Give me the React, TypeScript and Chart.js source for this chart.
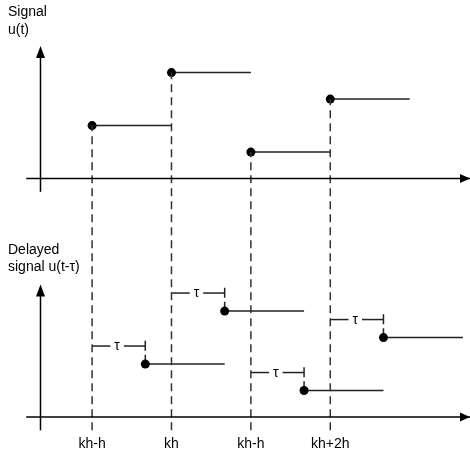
import React, { useEffect, useRef } from 'react';
import { Chart, registerables } from 'chart.js';
Chart.register(...registerables);

// ---- data ----
const tickLabels = ['kh-h', 'kh', 'kh-h', 'kh+2h'];
const sampleTimes = [1, 2, 3, 4];
const signalValues = [2, 4, 1, 3];
const delayTau = 0.67;
const holdPeriod = 1;

// ---- layout (data units) ----
const topBase = 9;
const axisTop = 5;
const axisBelow = -0.5;
const yAxisX = 0.35;
const xAxisStart = 0.17;
const X_MIN = -0.16;
const X_MAX = 5.76;
const Y_MIN = -1.47;
const Y_MAX = 15.74;
const bracketLift = 0.68;
const FONT = 'Arial, "Liberation Sans", Helvetica, sans-serif';

const line = (pts: { x: number; y: number }[], extra: any = {}) => ({
  data: pts,
  showLine: true,
  borderColor: '#000',
  borderWidth: 1.5,
  pointRadius: 0,
  fill: false,
  ...extra,
});

function buildDatasets() {
  const ds: any[] = [];
  // axes
  ds.push(line([{ x: xAxisStart, y: 0 }, { x: X_MAX, y: 0 }]));
  ds.push(line([{ x: xAxisStart, y: topBase }, { x: X_MAX, y: topBase }]));
  ds.push(line([{ x: yAxisX, y: axisBelow }, { x: yAxisX, y: axisTop - 0.3 }]));
  ds.push(line([{ x: yAxisX, y: topBase + axisBelow }, { x: yAxisX, y: topBase + axisTop - 0.3 }]));
  // dashed sample lines
  sampleTimes.forEach((t, i) => {
    ds.push(
      line([{ x: t, y: axisBelow }, { x: t, y: topBase + signalValues[i] }], {
        borderDash: [8, 5],
        borderColor: '#333',
      })
    );
  });
  // original signal (zero-order hold)
  sampleTimes.forEach((t, i) => {
    const v = topBase + signalValues[i];
    ds.push(
      line([{ x: t, y: v }, { x: t + holdPeriod, y: v }], {
        borderColor: '#222',
        pointRadius: [4.5, 0],
        pointBackgroundColor: '#000',
        pointBorderWidth: 0,
      })
    );
  });
  // delayed signal
  sampleTimes.forEach((t, i) => {
    const v = signalValues[i];
    const t0 = t + delayTau;
    ds.push(
      line([{ x: t0, y: v }, { x: t0 + holdPeriod, y: v }], {
        borderColor: '#222',
        pointRadius: [4.5, 0],
        pointBackgroundColor: '#000',
        pointBorderWidth: 0,
      })
    );
    const by = v + bracketLift;
    ds.push(line([{ x: t, y: by }, { x: t + 0.23, y: by }], { borderColor: '#222' }));
    ds.push(line([{ x: t + 0.4, y: by }, { x: t0, y: by }], { borderColor: '#222' }));
    ds.push(
      line([{ x: t0, y: by + 0.2 }, { x: t0, y: v }], { borderColor: '#222', borderDash: [10, 4] })
    );
  });
  return ds;
}

const overlay = {
  id: 'overlay',
  afterDatasetsDraw(chart: any) {
    const { ctx } = chart;
    const xs = chart.scales.x;
    const ys = chart.scales.y;
    const px = (v: number) => xs.getPixelForValue(v);
    const py = (v: number) => ys.getPixelForValue(v);
    ctx.save();
    ctx.fillStyle = '#000';
    // y-axis arrowheads
    const ax = px(yAxisX);
    [topBase + axisTop, axisTop].forEach((top) => {
      const y = py(top);
      ctx.beginPath();
      ctx.moveTo(ax, y);
      ctx.lineTo(ax - 4.5, y + 12);
      ctx.lineTo(ax + 4.5, y + 12);
      ctx.closePath();
      ctx.fill();
    });
    // x-axis arrowheads
    const xr = px(X_MAX);
    [topBase, 0].forEach((b) => {
      const y = py(b);
      ctx.beginPath();
      ctx.moveTo(xr, y);
      ctx.lineTo(xr - 10, y - 4.5);
      ctx.lineTo(xr - 10, y + 4.5);
      ctx.closePath();
      ctx.fill();
    });
    // titles
    ctx.font = `14px ${FONT}`;
    ctx.textBaseline = 'alphabetic';
    ctx.textAlign = 'left';
    const left = chart.chartArea.left + 8;
    ctx.fillText('Signal', left, py(topBase + axisTop) - 30);
    ctx.fillText('u(t)', left, py(topBase + axisTop) - 12);
    ctx.fillText('Delayed', left, py(axisTop) - 30.5);
    ctx.fillText('signal u(t-τ)', left, py(axisTop) - 13.5);
    // tick labels
    ctx.textAlign = 'center';
    sampleTimes.forEach((t, i) => ctx.fillText(tickLabels[i], px(t), py(0) + 31));
    // tau labels
    sampleTimes.forEach((t, i) =>
      ctx.fillText('τ', px(t + 0.315), py(signalValues[i] + bracketLift) + 4)
    );
    ctx.restore();
  },
};

export default function App() {
  const ref = useRef<HTMLCanvasElement | null>(null);
  useEffect(() => {
    if (!ref.current) return;
    const chart = new Chart(ref.current, {
      type: 'scatter',
      data: { datasets: buildDatasets() },
      options: {
        animation: false,
        responsive: false,
        devicePixelRatio: 1,
        layout: { padding: 0, autoPadding: false },
        plugins: { legend: { display: false }, tooltip: { enabled: false } },
        scales: {
          x: { type: 'linear', min: X_MIN, max: X_MAX, display: false },
          y: { type: 'linear', min: Y_MIN, max: Y_MAX, display: false },
        },
      },
      plugins: [overlay],
    } as any);
    return () => chart.destroy();
  }, []);
  return (
    <div style={{ position: 'absolute', left: 0, top: 0, width: 470, height: 456, background: '#fff' }}>
      <canvas ref={ref} width={470} height={456} />
    </div>
  );
}
